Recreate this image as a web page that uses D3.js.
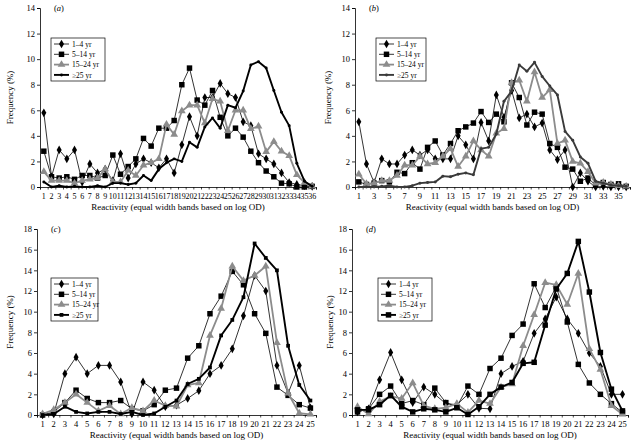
<!DOCTYPE html>
<html><head><meta charset="utf-8">
<script src="https://cdn.jsdelivr.net/npm/d3@7"></script>
<style>
body{margin:0;background:#fff}
text{font-family:"Liberation Serif","Times New Roman",serif;fill:#000}
</style>
</head><body>
<svg id="chart" width="633" height="443"></svg>
<script>
// ---------- data ----------
const seriesNames = ["1\u20134 yr", "5\u201314 yr", "15\u201324 yr", "\u226525 yr"];
const panelLabels = ["a", "b", "c", "d"];
const catsAB = d3.range(1, 37);
const catsCD = d3.range(1, 26);
const yTicksAB = [0, 2, 4, 6, 8, 10, 12, 14];
const yTicksCD = [0, 2, 4, 6, 8, 10, 12, 14, 16, 18];

const a_1_4  = [5.8,0.8,2.9,2.2,2.9,0.4,1.8,1.1,1.4,0.5,2.6,0.7,1.8,2.2,1.9,1.5,2.2,1.1,3.3,5.5,4.0,7.0,7.0,8.1,7.3,7.0,5.1,4.8,2.6,2.2,1.8,1.1,0.35,0.2,0.1,0.05];
const a_5_14 = [2.8,0.8,0.7,0.8,0.6,0.9,0.9,0.7,0.9,2.5,1.0,1.6,2.2,3.8,3.2,4.6,4.6,5.2,8.0,9.3,6.8,6.4,7.55,5.45,4.0,4.6,3.9,2.8,1.9,1.25,0.8,0.3,0.25,0.0,0.0,0.05];
const a_15_24= [1.2,0.5,0.5,0.5,0.3,0.5,0.6,0.7,1.4,0.4,0.4,1.3,0.9,1.7,1.9,2.2,4.9,4.1,5.95,6.4,6.4,5.0,6.9,6.7,4.4,6.0,6.0,4.55,4.75,2.75,3.55,2.8,2.45,0.95,0.35,0.05];
const a_25   = [0.4,0.0,0.1,0.0,0.05,0.0,0.0,0.1,0.0,0.3,0.3,0.2,0.3,0.9,0.5,1.4,1.9,2.2,2.0,3.5,3.1,4.7,5.4,4.6,6.4,6.2,7.5,9.55,9.8,9.3,7.55,5.85,4.8,1.85,0.45,0.05];

const b_1_4  = [5.1,1.8,0.35,2.2,1.8,1.8,2.5,2.9,2.5,2.9,2.2,2.2,2.2,4.0,3.3,2.2,5.05,3.6,7.2,5.45,7.55,5.4,5.7,4.7,5.0,2.9,2.15,2.9,0.0,1.1,0.45,0.0,0.05,0.0,0.0,0.0];
const b_5_14 = [0.4,0.2,0.3,0.5,0.4,1.15,1.05,1.9,1.4,3.1,3.6,2.5,3.4,4.4,4.7,5.0,5.9,5.05,5.7,5.1,8.15,7.0,4.85,5.85,5.7,3.4,3.1,1.55,1.4,0.45,0.7,0.15,0.35,0.2,0.25,0.05];
const b_15_24= [1.0,0.25,0.3,0.5,0.5,0.9,1.7,1.7,2.4,1.8,1.9,2.4,3.0,1.6,2.4,3.6,2.9,2.4,4.2,4.55,8.15,8.35,6.7,9.0,7.0,7.6,3.4,3.65,2.0,1.85,1.2,0.3,0.35,0.2,0.1,0.05];
const b_25   = [0.0,0.0,0.0,0.05,0.1,0.0,0.0,0.1,0.3,0.35,0.4,0.85,0.8,1.0,1.1,0.95,3.0,3.1,4.15,6.7,7.5,9.55,9.05,9.75,8.65,7.9,7.2,4.35,3.65,2.35,1.85,0.45,0.3,0.15,0.1,0.05];

const c_1_4  = [0.0,0.1,4.0,5.6,4.0,4.8,4.8,3.2,0.1,3.2,2.4,0.8,0.95,1.6,2.35,4.0,4.8,6.4,9.6,13.5,12.0,4.8,2.1,4.8,0.7];
const c_5_14 = [0.0,0.3,1.2,2.4,1.6,1.2,1.2,1.4,0.6,0.4,1.0,2.4,2.6,5.5,6.7,9.8,11.5,13.9,12.6,9.8,7.9,2.7,1.9,1.0,0.67];
const c_15_24= [0.1,0.5,1.2,2.0,1.2,0.4,0.9,0.1,0.7,0.4,1.4,0.9,0.85,2.9,3.1,7.7,10.3,14.4,13.0,13.5,14.4,7.0,2.1,0.17,0.07];
const c_25   = [0.0,0.1,0.8,0.3,0.15,0.3,0.3,0.1,0.3,0.0,0.15,0.8,1.4,3.0,3.5,4.6,7.7,9.2,11.4,16.6,15.2,14.0,6.7,2.9,1.4];

const d_1_4  = [0.3,0.6,3.4,6.05,3.4,1.2,2.7,2.0,1.1,1.0,2.0,0.65,0.6,4.0,4.7,5.2,7.9,9.3,11.4,9.3,7.9,6.0,4.7,2.0,2.0];
const d_5_14 = [0.3,0.6,2.0,2.8,1.1,1.4,1.0,2.6,1.2,0.8,2.8,2.0,4.5,5.5,7.7,8.8,12.7,10.4,12.4,9.0,4.9,3.1,2.0,1.1,0.25];
const d_15_24= [0.8,0.1,1.3,1.8,1.6,3.1,0.9,0.6,0.7,1.1,0.25,1.4,1.1,2.7,3.0,6.7,9.7,12.8,12.6,10.7,13.7,6.4,4.4,0.9,0.07];
const d_25   = [0.5,0.5,1.0,1.9,0.8,0.3,0.6,0.5,0.3,0.7,0.05,0.8,2.0,2.7,3.15,5.0,5.1,8.7,12.2,13.7,16.8,11.9,6.05,2.5,0.4];

const xTitle = "Reactivity (equal width bands based on log OD)";
const yTitle = "Frequency (%)";

// ---------- layout ----------
const panels = [
  {lab:"a", cats:catsAB, data:[a_1_4,a_5_14,a_15_24,a_25], ymax:14, yticks:yTicksAB, step:1,
   left:40, right:316, top:8, bottom:187, ytx:10, legend:{x:51,y:38,w:54,h:43}, bigLast:false, lastDark:false},
  {lab:"b", cats:catsAB, data:[b_1_4,b_5_14,b_15_24,b_25], ymax:14, yticks:yTicksAB, step:2,
   left:355, right:630, top:8, bottom:187, ytx:328, legend:{x:376,y:38,w:50,h:43}, bigLast:false, lastDark:true},
  {lab:"c", cats:catsCD, data:[c_1_4,c_5_14,c_15_24,c_25], ymax:18, yticks:yTicksCD, step:1,
   left:37, right:316, top:229, bottom:415, ytx:10, legend:{x:51,y:278,w:47,h:43}, bigLast:false, lastDark:false},
  {lab:"d", cats:catsCD, data:[d_1_4,d_5_14,d_15_24,d_25], ymax:18, yticks:yTicksCD, step:1,
   left:352, right:628, top:229, bottom:415, ytx:330, legend:{x:378,y:278,w:54,h:43}, bigLast:true, lastDark:false}
];

const svg = d3.select("#chart");

function styleFor(si, p){
  if (si===0) return {stroke:"#000", sw:0.8, marker:"diamond", mfill:"#000", ms:22};
  if (si===1) return {stroke:"#000", sw:0.8, marker:"square", mfill:"#000", ms:30};
  if (si===2) return {stroke:"#8c8c8c", sw:1.8, marker:"triangle", mfill:"#8c8c8c", ms:26};
  return {stroke: p.lastDark ? "#3a3a3a" : "#000", sw:1.9, marker: p.lab==="a"||p.lab==="b" ? "circle" : "square",
          mfill: p.lastDark ? "#3a3a3a" : "#000", ms: p.bigLast ? 30 : (p.lab==="c" ? 14 : 7)};
}
const symMap = {diamond:d3.symbolDiamond, square:d3.symbolSquare, triangle:d3.symbolTriangle, circle:d3.symbolCircle};

panels.forEach(p => {
  const g = svg.append("g");
  const x = d3.scaleBand().domain(p.cats).range([p.left, p.right]).padding(0);
  const xb = d3.scaleLinear().domain([0, p.cats.length]).range([p.left, p.right]);
  const y = d3.scaleLinear().domain([0, p.ymax]).range([p.bottom, p.top]);

  // y axis
  const ya = g.append("g").attr("transform", `translate(${p.left},0)`)
    .call(d3.axisLeft(y).tickValues(p.yticks).tickSize(3).tickPadding(2));
  ya.select(".domain").attr("stroke","#000").attr("stroke-width",0.8);
  ya.selectAll(".tick line").attr("stroke","#000").attr("stroke-width",0.8);
  ya.selectAll("text").style("font-family","Liberation Serif").style("font-size","8.5px");

  // x boundary ticks
  const xt = g.append("g").attr("transform", `translate(0,${p.bottom})`)
    .call(d3.axisBottom(xb).tickValues(d3.range(0, p.cats.length+1)).tickSize(2.5).tickFormat(""));
  xt.select(".domain").attr("stroke","#000").attr("stroke-width",0.8);
  xt.selectAll(".tick line").attr("stroke","#000").attr("stroke-width",0.7);

  // x labels
  const xl = g.append("g").attr("transform", `translate(0,${p.bottom})`)
    .call(d3.axisBottom(x).tickValues(p.cats.filter(c => (c-1) % p.step === 0)).tickSize(0).tickPadding(6));
  xl.select(".domain").remove();
  xl.selectAll("text").style("font-family","Liberation Serif").style("font-size", p.cats.length>30 && p.step===1 ? "8px" : "8.5px");

  // titles
  g.append("text").attr("x", (p.left+p.right)/2).attr("y", p.bottom+23)
    .attr("text-anchor","middle").style("font-size","9px").text(xTitle);
  g.append("text").attr("transform", `translate(${p.ytx},${(p.top+p.bottom)/2}) rotate(-90)`)
    .attr("text-anchor","middle").attr("dy","0.35em").style("font-size","9px").text(yTitle);
  const pl = g.append("text").attr("x", p.left+14).attr("y", p.top+3).style("font-size","8.5px");
  pl.append("tspan").text("(");
  pl.append("tspan").style("font-style","italic").text(p.lab);
  pl.append("tspan").text(")");

  // series
  const line = d3.line().x((d,i) => x(p.cats[i]) + x.bandwidth()/2).y(d => y(d));
  p.data.forEach((arr, si) => {
    const st = styleFor(si, p);
    g.append("path").datum(arr).attr("d", line).attr("fill","none")
      .attr("stroke", st.stroke).attr("stroke-width", st.sw).attr("stroke-linejoin","round");
    g.selectAll(null).data(arr).enter().append("path")
      .attr("transform", (d,i) => `translate(${x(p.cats[i]) + x.bandwidth()/2},${y(d)})`)
      .attr("d", d3.symbol().type(symMap[st.marker]).size(st.ms))
      .attr("fill", st.mfill);
  });

  // legend
  const L = p.legend;
  const lg = g.append("g").attr("transform", `translate(${L.x},${L.y})`);
  lg.append("rect").attr("width", L.w).attr("height", L.h).attr("fill","#fff")
    .attr("stroke","#000").attr("stroke-width",0.7);
  seriesNames.forEach((nm, si) => {
    const st = styleFor(si, p);
    const yy = 6 + si*10.3;
    lg.append("line").attr("x1",3).attr("x2",18).attr("y1",yy).attr("y2",yy)
      .attr("stroke", st.stroke).attr("stroke-width", st.sw);
    lg.append("path").attr("transform",`translate(10.5,${yy})`)
      .attr("d", d3.symbol().type(symMap[st.marker]).size(st.ms)).attr("fill", st.mfill);
    lg.append("text").attr("x",21).attr("y",yy).attr("dy","0.35em").style("font-size","7.5px").text(nm);
  });
});
</script>
</body></html>
